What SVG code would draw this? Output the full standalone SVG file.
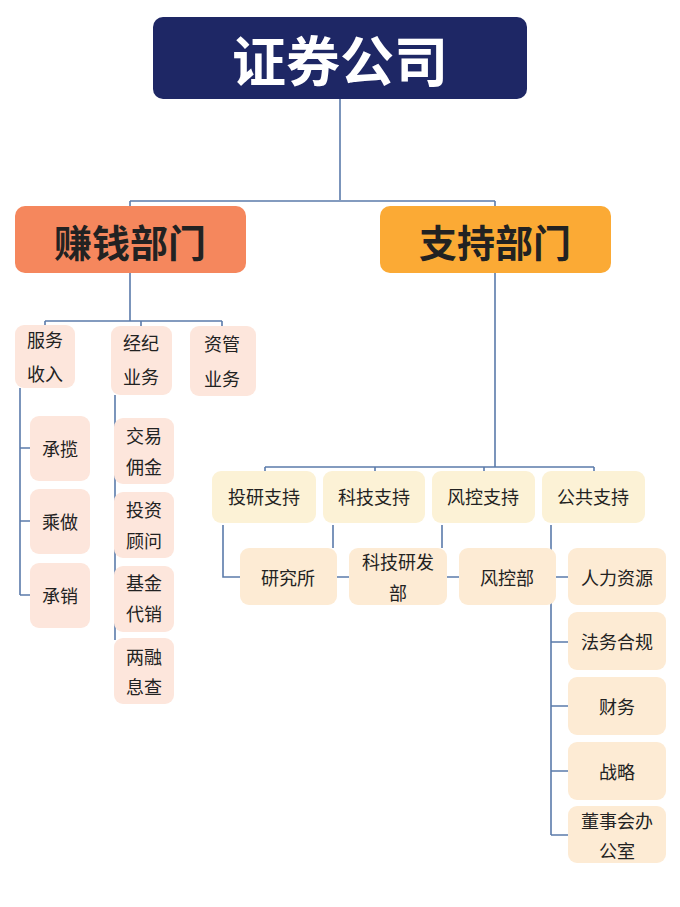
<svg xmlns="http://www.w3.org/2000/svg" width="680" height="907" viewBox="0 0 680 907">
<style>
text{font-family:"Noto Sans CJK SC","Liberation Sans",sans-serif;text-anchor:middle;dominant-baseline:central;fill:#222}
.ln{stroke:#5b7bab;stroke-width:1.6;fill:none}
.p{fill:#fde6dc}
.y{fill:#fcf2d6}
.o{fill:#fdebd4}
.t{font-size:18px}
</style>
<rect width="680" height="907" fill="#fff"/>
<g id="connectors" class="ln">
<path d="M340 99V200M130 201H495M130 201V206M495 201V206"/>
<path d="M130 273V321M45 321H222M45 321V325M141 321V326M222 321V326"/>
<path d="M20 388V595M20 448H30M20 521H30M20 595H30"/>
<path d="M115 395V640"/>
<path d="M495 273V467M265 467H594M265 467V471M375 467V471M484 467V471M594 467V471"/>
<path d="M223 525V577H240M333 525V548M442 525V548M337 577H349M447 577H459M556 577H568"/>
<path d="M551 525V835M551 642H568M551 706H568M551 771H568M551 835H568"/>
</g>
<g id="root"><rect x="153" y="17" width="374" height="82" rx="10" fill="#1e2765"/><text x="340" y="58" font-size="54" font-weight="bold" style="fill:#fff">证券公司</text></g>
<g id="earn"><rect x="15" y="206" width="231" height="67" rx="10" fill="#f5875d"/><text x="130" y="240" font-size="38" font-weight="bold">赚钱部门</text></g>
<g id="support"><rect x="380" y="206" width="231" height="67" rx="10" fill="#fbaa35"/><text x="495" y="240" font-size="38" font-weight="bold">支持部门</text></g>
<g id="fw"><rect class="p" x="15" y="325" width="60" height="63" rx="9"/><text class="t" x="45" y="339">服务</text><text class="t" x="45" y="373">收入</text></g>
<g id="jj"><rect class="p" x="111" y="326" width="61" height="69" rx="9"/><text class="t" x="141" y="342">经纪</text><text class="t" x="141" y="376">业务</text></g>
<g id="zg"><rect class="p" x="190" y="326" width="66" height="70" rx="9"/><text class="t" x="222" y="343">资管</text><text class="t" x="222" y="378">业务</text></g>
<g id="cl"><rect class="p" x="30" y="416" width="60" height="65" rx="9"/><text class="t" x="60" y="448" font-size="17">承揽</text></g>
<g id="cz"><rect class="p" x="30" y="489" width="60" height="65" rx="9"/><text class="t" x="60" y="521">乘做</text></g>
<g id="cx"><rect class="p" x="30" y="563" width="60" height="65" rx="9"/><text class="t" x="60" y="595">承销</text></g>
<g id="jy"><rect class="p" x="114" y="418" width="60" height="66" rx="9"/><text class="t" x="144" y="435">交易</text><text class="t" x="144" y="466">佣金</text></g>
<g id="tz"><rect class="p" x="114" y="492" width="60" height="66" rx="9"/><text class="t" x="144" y="509">投资</text><text class="t" x="144" y="540">顾问</text></g>
<g id="jj2"><rect class="p" x="114" y="566" width="60" height="66" rx="9"/><text class="t" x="144" y="582">基金</text><text class="t" x="144" y="613">代销</text></g>
<g id="lr"><rect class="p" x="114" y="638" width="60" height="66" rx="9"/><text class="t" x="144" y="656">两融</text><text class="t" x="144" y="686">息查</text></g>
<g id="ty"><rect class="y" x="212" y="471" width="104" height="52" rx="9"/><text class="t" x="264" y="496">投研支持</text></g>
<g id="kj"><rect class="y" x="323" y="471" width="102" height="52" rx="9"/><text class="t" x="374" y="496">科技支持</text></g>
<g id="fk"><rect class="y" x="432" y="471" width="103" height="52" rx="9"/><text class="t" x="483" y="496">风控支持</text></g>
<g id="gg"><rect class="y" x="542" y="471" width="103" height="52" rx="9"/><text class="t" x="593" y="496">公共支持</text></g>
<g id="yjs"><rect class="o" x="240" y="548" width="97" height="57" rx="9"/><text class="t" x="288" y="577" font-size="17">研究所</text></g>
<g id="kjyf"><rect class="o" x="349" y="548" width="98" height="57" rx="9"/><text class="t" x="398" y="561" font-size="17">科技研发</text><text class="t" x="398" y="592" font-size="17">部</text></g>
<g id="fkb"><rect class="o" x="459" y="548" width="97" height="57" rx="9"/><text class="t" x="507" y="577" font-size="17">风控部</text></g>
<g id="rl"><rect class="o" x="568" y="548" width="98" height="57" rx="9"/><text class="t" x="617" y="577" font-size="17">人力资源</text></g>
<g id="fw2"><rect class="o" x="568" y="612" width="98" height="58" rx="9"/><text class="t" x="617" y="641" font-size="17">法务合规</text></g>
<g id="cw"><rect class="o" x="568" y="677" width="98" height="58" rx="9"/><text class="t" x="617" y="706" font-size="17">财务</text></g>
<g id="zl"><rect class="o" x="568" y="742" width="98" height="58" rx="9"/><text class="t" x="617" y="771" font-size="17">战略</text></g>
<g id="dsh"><rect class="o" x="568" y="806" width="98" height="57" rx="9"/><text class="t" x="617" y="820" font-size="17">董事会办</text><text class="t" x="617" y="850" font-size="17">公室</text></g>
</svg>
